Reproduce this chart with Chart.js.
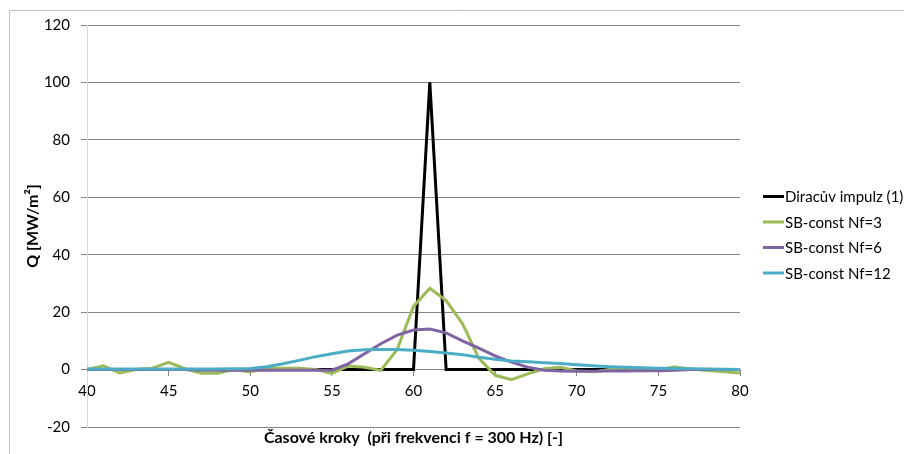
<!DOCTYPE html>
<html><head><meta charset="utf-8">
<script src="https://cdn.jsdelivr.net/npm/chart.js@4"></script>
<style>html,body{margin:0;padding:0;background:#fff}#wrap{width:904px;height:454px;position:relative}</style>
</head><body><div id="wrap"><canvas id="c" width="904" height="454"></canvas></div>
<script>
const steps = [40,41,42,43,44,45,46,47,48,49,50,51,52,53,54,55,56,57,58,59,60,61,62,63,64,65,66,67,68,69,70,71,72,73,74,75,76,77,78,79,80];
const dirac = [0,0,0,0,0,0,0,0,0,0,0,0,0,0,0,0,0,0,0,0,0,100,0,0,0,0,0,0,0,0,0,0,0,0,0,0,0,0,0,0,0];
const nf3 = [0,1.3,-1.2,0,0.5,2.5,0.3,-1.3,-1.3,0,-0.8,0.5,0.5,0.5,0,-1.3,1.2,0.8,-0.3,7,22,28.3,24,16,4,-2,-3.5,-1.5,0.3,0.8,-0.5,-0.8,0,0.5,-0.3,0,0.9,0.2,-0.3,-0.8,-1.2];
const nf6 = [0,0,0,0,0,0,0,-0.2,-0.2,-0.2,-0.2,-0.2,-0.2,-0.2,-0.2,-0.2,2,5.5,9,12,13.8,14.1,12.8,10,7.5,4.8,2.6,0.8,-0.2,-0.5,-0.6,-0.6,-0.5,-0.5,-0.4,-0.4,-0.2,0,0,0,0];
const nf12 = [0.2,0.2,0.2,0.2,0.2,0.2,0.2,0.2,0.2,0.3,0.4,1.0,2.0,3.2,4.5,5.5,6.5,6.9,7.0,7.0,6.7,6.3,5.8,5.2,4.3,3.6,3.0,2.7,2.4,2.1,1.7,1.3,1.0,0.8,0.6,0.45,0.35,0.3,0.2,0.1,0];
const seriesNames = ["Diracův impulz (1)", "SB-const Nf=3", "SB-const Nf=6", "SB-const Nf=12"];
const seriesColors = ["#000000", "#9BBB59", "#8064A2", "#4BACC6"];
const xTitle = "Časové kroky  (při frekvenci f = 300 Hz) [-]";
const yTitle = "Q [MW/m²]";

const allSeries = [dirac, nf3, nf6, nf12];
const FONT = "Lato";

const extras = {
  id: "extras",
  beforeDraw(chart) {
    const ctx = chart.ctx;
    ctx.save();
    ctx.fillStyle = "#fff";
    ctx.fillRect(0, 0, chart.width, chart.height);
    ctx.strokeStyle = "#bfbfbf";
    ctx.lineWidth = 1;
    ctx.beginPath();
    ctx.moveTo(9.5, 454);
    ctx.lineTo(9.5, 10.5);
    ctx.lineTo(904, 10.5);
    ctx.stroke();
    ctx.restore();
  },
  afterDraw(chart) {
    const ctx = chart.ctx;
    const a = chart.chartArea;
    ctx.save();
    ctx.fillStyle = "#000";
    ctx.font = "bold 16px " + FONT;
    ctx.textAlign = "center";
    ctx.textBaseline = "middle";
    ctx.fillText(xTitle, (a.left + a.right) / 2, 438);
    ctx.font = "15px " + FONT;
    ctx.textAlign = "left";
    chart.data.datasets.forEach((ds, i) => {
      const y = 196.5 + i * 25.5;
      ctx.strokeStyle = ds.borderColor;
      ctx.lineWidth = 3;
      ctx.beginPath();
      ctx.moveTo(763, y);
      ctx.lineTo(784, y);
      ctx.stroke();
      ctx.fillStyle = "#000";
      ctx.fillText(ds.label, 785, y + 1);
    });
    ctx.restore();
  }
};

new Chart(document.getElementById("c"), {
  type: "line",
  data: {
    datasets: allSeries.map((s, i) => ({
      label: seriesNames[i],
      data: steps.map((x, j) => ({x: x, y: s[j]})),
      borderColor: seriesColors[i],
      backgroundColor: seriesColors[i],
      borderWidth: 3,
      pointRadius: 0,
      tension: 0,
      fill: false,
      order: 3 - i
    }))
  },
  options: {
    responsive: false,
    animation: false,
    devicePixelRatio: 1,
    layout: { padding: { left: 0, right: 164, top: 25, bottom: 27 } },
    plugins: { legend: { display: false }, tooltip: { enabled: false } },
    scales: {
      x: {
        type: "linear",
        position: { y: 0 },
        min: 40, max: 80,
        ticks: { stepSize: 5, padding: 7, color: "#000", font: { family: FONT, size: 15 } },
        grid: { drawOnChartArea: false, drawTicks: true, tickLength: 6, color: "#868686" },
        border: { display: true, color: "#868686" }
      },
      y: {
        type: "linear",
        min: -20, max: 120,
        ticks: { stepSize: 20, padding: 11, color: "#000", font: { family: FONT, size: 15 } },
        grid: { color: "#868686", drawTicks: true, tickLength: 6 },
        border: { display: true, color: "#d9d9d9" },
        title: { display: true, text: yTitle, color: "#000", font: { family: FONT, size: 16, weight: "bold" }, padding: { top: 23, bottom: 0 } },
        afterFit: (s) => { s.width = 87; }
      }
    }
  },
  plugins: [extras]
});
</script>
</body></html>
